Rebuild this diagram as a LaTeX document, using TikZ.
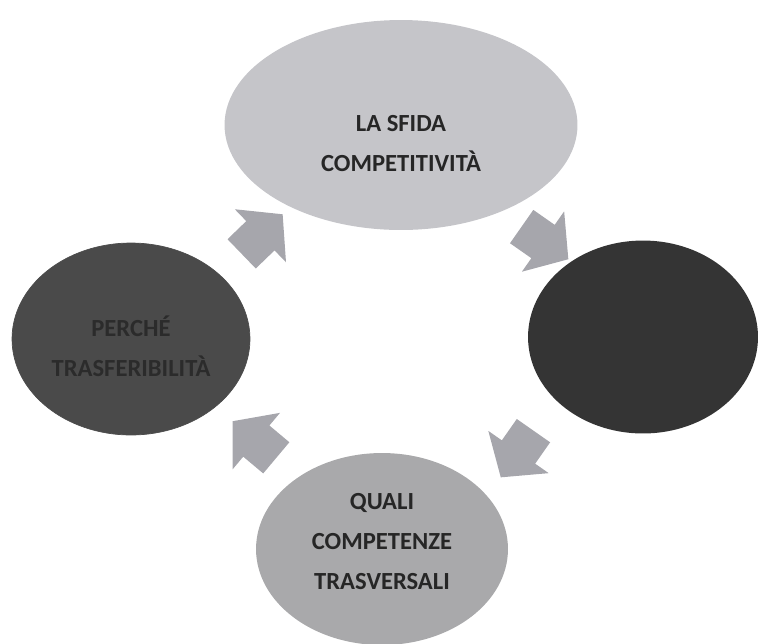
\documentclass[tikz,border=0pt]{standalone}
\usepackage{fontspec}
\setmainfont{Carlito}
\usetikzlibrary{shapes.geometric,shapes.arrows}
\definecolor{sfidagray}{HTML}{C5C5C9}
\definecolor{percheg}{HTML}{4A4A4A}
\definecolor{darkball}{HTML}{343434}
\definecolor{qualigray}{HTML}{A9A9AB}
\definecolor{arrowgray}{HTML}{A6A6AC}
\definecolor{scritta}{HTML}{2B2B2B}
\tikzset{
  bolla/.style={ellipse,inner sep=0pt,align=center,font=\bfseries\fontsize{14}{22.8}\selectfont},
  freccia/.style={single arrow,draw=none,fill=arrowgray,inner xsep=0pt,inner ysep=.4cm,
    minimum height=1.14cm,single arrow head extend=.33cm,single arrow tip angle=100}
}
\begin{document}
\begin{tikzpicture}[x=.02cm,y=-.02cm,line join=round]
			\useasboundingbox (0,0) rectangle (759,643);
			\node[bolla,fill=sfidagray,minimum width=7.06cm,minimum height=4.2cm,text=black!85] (sfida) at (401,125) {\rule{0pt}{30pt}LA SFIDA\\COMPETITIVITÀ};
			\node[bolla,fill=percheg,draw=black!70,minimum width=4.76cm,minimum height=3.84cm,text=scritta] (perche) at (131,339) {\rule{0pt}{20pt}PERCHÉ\\TRASFERIBILITÀ};
			\node[bolla,fill=darkball,minimum width=4.6cm,minimum height=3.86cm] (scuro) at (643,337) {};
			\node[bolla,fill=qualigray,minimum width=5.04cm,minimum height=3.84cm,text=black!85] (quali) at (382,549) {QUALI\\COMPETENZE\\TRASVERSALI\rule[-8.5pt]{0pt}{8.5pt}};
			\node[freccia,rotate=44] (f1) at (256,240) {};
			\node[freccia,rotate=-35] (f2) at (538,238) {};
			\node[freccia,rotate=-125] (f3) at (522,447) {};
			\node[freccia,rotate=140] (f4) at (261,445) {};
		\end{tikzpicture}
\end{document}
